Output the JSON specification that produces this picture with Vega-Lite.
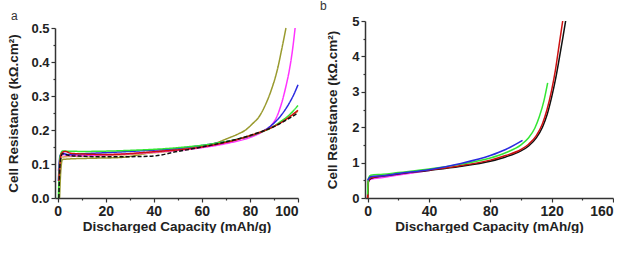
{
  "$schema": "https://vega.github.io/schema/vega-lite/v6.json",
  "background": "white",
  "padding": {"left": 6, "top": 0, "right": 0, "bottom": 0},
  "config": {
    "view": {"stroke": null},
    "font": "Liberation Sans",
    "axis": {
      "grid": false,
      "domainColor": "#333333",
      "domainWidth": 1.5,
      "tickColor": "#333333",
      "tickWidth": 1.2,
      "tickSize": 4,
      "labelFont": "Liberation Sans",
      "labelFontWeight": "bold",
      "labelFontSize": 13,
      "labelColor": "#222222",
      "titleFont": "Liberation Sans",
      "titleFontWeight": "bold",
      "titleFontSize": 13.5,
      "titleColor": "#222222"
    },
    "axisX": {"labelFontSize": 14},
    "title": {"font": "Liberation Sans", "fontSize": 12, "fontWeight": "normal", "anchor": "start", "frame": "group", "color": "#333333"}
  },
  "datasets": {
    "a": [
      {"x": 0.8, "y": 0.0, "s": "olive"}, {"x": 1.3, "y": 0.08, "s": "olive"}, {"x": 2, "y": 0.113, "s": "olive"}, {"x": 5, "y": 0.115, "s": "olive"}, {"x": 15, "y": 0.117, "s": "olive"}, {"x": 26, "y": 0.119, "s": "olive"}, {"x": 40, "y": 0.135, "s": "olive"}, {"x": 55, "y": 0.148, "s": "olive"}, {"x": 65, "y": 0.16, "s": "olive"}, {"x": 71, "y": 0.176, "s": "olive"}, {"x": 75, "y": 0.188, "s": "olive"}, {"x": 78.2, "y": 0.2, "s": "olive"}, {"x": 81, "y": 0.218, "s": "olive"}, {"x": 83.7, "y": 0.238, "s": "olive"}, {"x": 86.5, "y": 0.275, "s": "olive"}, {"x": 89.3, "y": 0.326, "s": "olive"}, {"x": 91.5, "y": 0.38, "s": "olive"}, {"x": 93.3, "y": 0.44, "s": "olive"}, {"x": 95, "y": 0.5, "s": "olive"},
      {"x": 0.5, "y": 0.09, "s": "orange"}, {"x": 1.5, "y": 0.12, "s": "orange"}, {"x": 5, "y": 0.122, "s": "orange"}, {"x": 20, "y": 0.125, "s": "orange"}, {"x": 35, "y": 0.13, "s": "orange"}, {"x": 50, "y": 0.14, "s": "orange"}, {"x": 60, "y": 0.149, "s": "orange"}, {"x": 70, "y": 0.163, "s": "orange"}, {"x": 80, "y": 0.184, "s": "orange"}, {"x": 90, "y": 0.212, "s": "orange"}, {"x": 100, "y": 0.255, "s": "orange"},
      {"x": 0.3, "y": 0.08, "s": "magenta"}, {"x": 1.5, "y": 0.128, "s": "magenta"}, {"x": 5, "y": 0.125, "s": "magenta"}, {"x": 20, "y": 0.127, "s": "magenta"}, {"x": 40, "y": 0.135, "s": "magenta"}, {"x": 60, "y": 0.148, "s": "magenta"}, {"x": 70, "y": 0.16, "s": "magenta"}, {"x": 80, "y": 0.178, "s": "magenta"}, {"x": 84, "y": 0.19, "s": "magenta"}, {"x": 86.5, "y": 0.2, "s": "magenta"}, {"x": 88.7, "y": 0.212, "s": "magenta"}, {"x": 90.7, "y": 0.232, "s": "magenta"}, {"x": 92.8, "y": 0.27, "s": "magenta"}, {"x": 94.9, "y": 0.326, "s": "magenta"}, {"x": 96.5, "y": 0.38, "s": "magenta"}, {"x": 97.8, "y": 0.44, "s": "magenta"}, {"x": 98.8, "y": 0.5, "s": "magenta"},
      {"x": 0.3, "y": 0.05, "s": "blue"}, {"x": 1, "y": 0.125, "s": "blue"}, {"x": 2, "y": 0.132, "s": "blue"}, {"x": 4, "y": 0.128, "s": "blue"}, {"x": 10, "y": 0.13, "s": "blue"}, {"x": 30, "y": 0.137, "s": "blue"}, {"x": 50, "y": 0.146, "s": "blue"}, {"x": 65, "y": 0.16, "s": "blue"}, {"x": 75, "y": 0.173, "s": "blue"}, {"x": 82, "y": 0.187, "s": "blue"}, {"x": 87, "y": 0.203, "s": "blue"}, {"x": 90.7, "y": 0.225, "s": "blue"}, {"x": 93.5, "y": 0.248, "s": "blue"}, {"x": 96.2, "y": 0.277, "s": "blue"}, {"x": 98.3, "y": 0.305, "s": "blue"}, {"x": 100, "y": 0.333, "s": "blue"},
      {"x": 0.3, "y": 0.0, "s": "green"}, {"x": 1, "y": 0.12, "s": "green"}, {"x": 2, "y": 0.138, "s": "green"}, {"x": 10, "y": 0.137, "s": "green"}, {"x": 30, "y": 0.14, "s": "green"}, {"x": 50, "y": 0.148, "s": "green"}, {"x": 65, "y": 0.16, "s": "green"}, {"x": 77, "y": 0.177, "s": "green"}, {"x": 84, "y": 0.192, "s": "green"}, {"x": 89, "y": 0.207, "s": "green"}, {"x": 93, "y": 0.226, "s": "green"}, {"x": 96.2, "y": 0.243, "s": "green"}, {"x": 100, "y": 0.272, "s": "green"},
      {"x": 0.5, "y": 0.05, "s": "red"}, {"x": 1.5, "y": 0.13, "s": "red"}, {"x": 3, "y": 0.137, "s": "red"}, {"x": 6, "y": 0.131, "s": "red"}, {"x": 20, "y": 0.128, "s": "red"}, {"x": 40, "y": 0.136, "s": "red"}, {"x": 60, "y": 0.15, "s": "red"}, {"x": 72, "y": 0.167, "s": "red"}, {"x": 80, "y": 0.183, "s": "red"}, {"x": 86, "y": 0.198, "s": "red"}, {"x": 93, "y": 0.222, "s": "red"}, {"x": 100, "y": 0.258, "s": "red"},
      {"x": 0.5, "y": 0.0, "s": "black"}, {"x": 1, "y": 0.1, "s": "black"}, {"x": 2, "y": 0.13, "s": "black"}, {"x": 5, "y": 0.125, "s": "black"}, {"x": 10, "y": 0.123, "s": "black"}, {"x": 20, "y": 0.121, "s": "black"}, {"x": 39, "y": 0.123, "s": "black"}, {"x": 50, "y": 0.137, "s": "black"}, {"x": 60, "y": 0.15, "s": "black"}, {"x": 70, "y": 0.165, "s": "black"}, {"x": 80, "y": 0.184, "s": "black"}, {"x": 90, "y": 0.21, "s": "black"}, {"x": 100, "y": 0.25, "s": "black"}
    ],
    "b": [
      {"x": 0.3, "y": 0.0, "s": "olive"}, {"x": 0.6, "y": 0.5, "s": "olive"}, {"x": 2, "y": 0.58, "s": "olive"}, {"x": 10, "y": 0.62, "s": "olive"}, {"x": 30, "y": 0.72, "s": "olive"},
      {"x": 0, "y": 0.45, "s": "magenta"}, {"x": 2, "y": 0.53, "s": "magenta"}, {"x": 10, "y": 0.58, "s": "magenta"}, {"x": 20, "y": 0.65, "s": "magenta"}, {"x": 30, "y": 0.71, "s": "magenta"}, {"x": 42, "y": 0.79, "s": "magenta"},
      {"x": 0, "y": 0.0, "s": "black"}, {"x": 0.5, "y": 0.45, "s": "black"}, {"x": 2, "y": 0.55, "s": "black"}, {"x": 10, "y": 0.62, "s": "black"}, {"x": 20, "y": 0.68, "s": "black"}, {"x": 40, "y": 0.78, "s": "black"}, {"x": 60, "y": 0.89, "s": "black"}, {"x": 80, "y": 1.04, "s": "black"}, {"x": 90, "y": 1.16, "s": "black"}, {"x": 100, "y": 1.33, "s": "black"}, {"x": 105, "y": 1.47, "s": "black"}, {"x": 110, "y": 1.7, "s": "black"}, {"x": 114, "y": 2.0, "s": "black"}, {"x": 117, "y": 2.35, "s": "black"}, {"x": 120, "y": 2.85, "s": "black"}, {"x": 122.5, "y": 3.35, "s": "black"}, {"x": 125, "y": 3.95, "s": "black"}, {"x": 127.2, "y": 4.5, "s": "black"}, {"x": 129.1, "y": 5.0, "s": "black"},
      {"x": 0, "y": 0.0, "s": "red"}, {"x": 0.5, "y": 0.47, "s": "red"}, {"x": 2, "y": 0.57, "s": "red"}, {"x": 10, "y": 0.63, "s": "red"}, {"x": 20, "y": 0.69, "s": "red"}, {"x": 40, "y": 0.79, "s": "red"}, {"x": 60, "y": 0.91, "s": "red"}, {"x": 80, "y": 1.07, "s": "red"}, {"x": 90, "y": 1.2, "s": "red"}, {"x": 100, "y": 1.37, "s": "red"}, {"x": 105, "y": 1.52, "s": "red"}, {"x": 110, "y": 1.76, "s": "red"}, {"x": 114, "y": 2.1, "s": "red"}, {"x": 117, "y": 2.5, "s": "red"}, {"x": 120, "y": 3.05, "s": "red"}, {"x": 122.4, "y": 3.6, "s": "red"}, {"x": 124.8, "y": 4.3, "s": "red"}, {"x": 127.2, "y": 5.0, "s": "red"},
      {"x": 0, "y": 0.1, "s": "green"}, {"x": 0.5, "y": 0.55, "s": "green"}, {"x": 2, "y": 0.64, "s": "green"}, {"x": 10, "y": 0.67, "s": "green"}, {"x": 20, "y": 0.72, "s": "green"}, {"x": 40, "y": 0.82, "s": "green"}, {"x": 60, "y": 0.95, "s": "green"}, {"x": 80, "y": 1.13, "s": "green"}, {"x": 90, "y": 1.28, "s": "green"}, {"x": 100, "y": 1.5, "s": "green"}, {"x": 105, "y": 1.7, "s": "green"}, {"x": 109, "y": 1.97, "s": "green"}, {"x": 112, "y": 2.3, "s": "green"}, {"x": 115, "y": 2.75, "s": "green"}, {"x": 117.4, "y": 3.25, "s": "green"},
      {"x": 0, "y": 0.5, "s": "blue"}, {"x": 2, "y": 0.6, "s": "blue"}, {"x": 10, "y": 0.63, "s": "blue"}, {"x": 20, "y": 0.69, "s": "blue"}, {"x": 40, "y": 0.8, "s": "blue"}, {"x": 60, "y": 0.97, "s": "blue"}, {"x": 80, "y": 1.2, "s": "blue"}, {"x": 90, "y": 1.37, "s": "blue"}, {"x": 101, "y": 1.63, "s": "blue"}
    ]
  },
  "hconcat": [
    {
      "title": {"text": "a", "dx": -44, "dy": 4, "offset": 2},
      "width": 243,
      "height": 177,
      "data": {"name": "a"},
      "layer": [
        {
          "mark": {"type": "line", "strokeWidth": 1.5, "interpolate": "monotone"},
          "encoding": {
            "x": {"field": "x", "type": "quantitative", "scale": {"domain": [-1.1, 100], "nice": false, "zero": false},
                  "axis": {"values": [0, 20, 40, 60, 80, 100], "title": "Discharged Capacity (mAh/g)", "titlePadding": 1, "labelPadding": 2}},
            "y": {"field": "y", "type": "quantitative", "scale": {"domain": [0, 0.5], "nice": false, "range": [177, 7]},
                  "axis": {"values": [0, 0.1, 0.2, 0.3, 0.4, 0.5], "format": ".1f", "title": "Cell Resistance (kΩ.cm²)", "titlePadding": 10, "labelPadding": 2}},
            "color": {"field": "s", "type": "nominal", "legend": null,
                      "scale": {"domain": ["olive", "orange", "magenta", "blue", "green", "red", "black"], "range": ["#999a2e", "#e0a060", "#ff33ff", "#2a2ae0", "#33e633", "#cc1111", "#111111"]}},
            "strokeDash": {"field": "s", "type": "nominal", "legend": null,
                      "scale": {"domain": ["olive", "orange", "magenta", "blue", "green", "red", "black"], "range": [[1, 0], [1, 0], [1, 0], [1, 0], [1, 0], [1, 0], [4, 2]]}},
            "order": {"field": "x", "type": "quantitative"}
          }
        },
        {
          "mark": {"type": "line", "opacity": 0},
          "encoding": {
            "x": {"field": "x", "type": "quantitative", "scale": {"domain": [-1.1, 100], "nice": false, "zero": false},
                  "axis": {"orient": "bottom", "values": [10, 30, 50, 70, 90], "labels": false, "domain": false, "tickSize": 2, "title": null}},
            "y": {"field": "y", "type": "quantitative", "scale": {"domain": [0, 0.5], "nice": false, "range": [177, 7]},
                  "axis": {"orient": "left", "values": [0.05, 0.15, 0.25, 0.35, 0.45], "labels": false, "domain": false, "tickSize": 2, "title": null}}
          }
        }
      ],
      "resolve": {"axis": {"x": "independent", "y": "independent"}}
    },
    {
      "title": {"text": "b", "dx": -45, "offset": 2},
      "width": 248,
      "height": 177,
      "data": {"name": "b"},
      "layer": [
        {
          "mark": {"type": "line", "strokeWidth": 1.5, "interpolate": "monotone"},
          "encoding": {
            "x": {"field": "x", "type": "quantitative", "scale": {"domain": [-1.7, 160], "nice": false, "zero": false},
                  "axis": {"values": [0, 40, 80, 120, 160], "title": "Discharged Capacity (mAh/g)", "titlePadding": 1, "labelPadding": 2}},
            "y": {"field": "y", "type": "quantitative", "scale": {"domain": [0, 5], "nice": false},
                  "axis": {"values": [0, 1, 2, 3, 4, 5], "title": "Cell Resistance (kΩ.cm²)", "titlePadding": 12, "labelPadding": 2}},
            "color": {"field": "s", "type": "nominal", "legend": null,
                      "scale": {"domain": ["olive", "magenta", "black", "red", "green", "blue"], "range": ["#999a2e", "#ff33ff", "#111111", "#dd1111", "#33e633", "#2a2ae0"]}},
            "order": {"field": "x", "type": "quantitative"}
          }
        },
        {
          "mark": {"type": "line", "opacity": 0},
          "encoding": {
            "x": {"field": "x", "type": "quantitative", "scale": {"domain": [-1.7, 160], "nice": false, "zero": false},
                  "axis": {"orient": "bottom", "values": [20, 60, 100, 140], "labels": false, "domain": false, "tickSize": 2, "title": null}},
            "y": {"field": "y", "type": "quantitative", "scale": {"domain": [0, 5], "nice": false},
                  "axis": {"orient": "left", "values": [0.5, 1.5, 2.5, 3.5, 4.5], "labels": false, "domain": false, "tickSize": 2, "title": null}}
          }
        }
      ],
      "resolve": {"axis": {"x": "independent", "y": "independent"}}
    }
  ],
  "spacing": 19
}
